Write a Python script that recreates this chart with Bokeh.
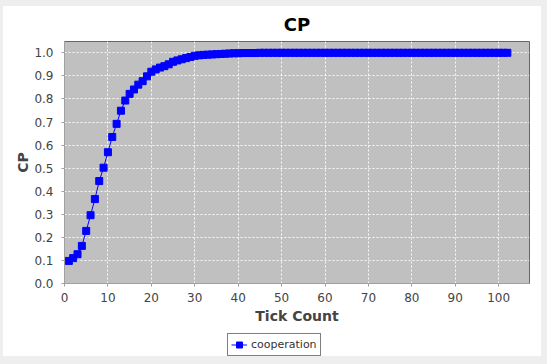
from bokeh.plotting import figure
from bokeh.embed import file_html
from bokeh.resources import INLINE
from bokeh.layouts import column
from bokeh.models import FixedTicker, NumeralTickFormatter, Legend, LegendItem, Range1d

tick_count = list(range(1, 103))
cp_values = [
    0.098, 0.110, 0.127, 0.163, 0.228, 0.296, 0.366, 0.444, 0.502, 0.569,
    0.635, 0.692, 0.749, 0.793, 0.822, 0.841, 0.862, 0.877, 0.898, 0.918,
    0.928, 0.936, 0.942, 0.950, 0.961, 0.967, 0.972, 0.977, 0.982, 0.987,
    0.989, 0.991, 0.992, 0.993, 0.994, 0.995, 0.996, 0.997, 0.998, 0.998,
    0.999, 0.999, 0.999, 0.999, 1.000, 1.000, 1.000, 1.000, 1.000, 1.000,
    1.000, 1.000, 1.000, 1.000, 1.000, 1.000, 1.000, 1.000, 1.000, 1.000,
    1.000, 1.000, 1.000, 1.000, 1.000, 1.000, 1.000, 1.000, 1.000, 1.000,
    1.000, 1.000, 1.000, 1.000, 1.000, 1.000, 1.000, 1.000, 1.000, 1.000,
    1.000, 1.000, 1.000, 1.000, 1.000, 1.000, 1.000, 1.000, 1.000, 1.000,
    1.000, 1.000, 1.000, 1.000, 1.000, 1.000, 1.000, 1.000, 1.000, 1.000,
    1.000, 1.000,
]
x_ticks = [0, 10, 20, 30, 40, 50, 60, 70, 80, 90, 100]
y_ticks = [0.0, 0.1, 0.2, 0.3, 0.4, 0.5, 0.6, 0.7, 0.8, 0.9, 1.0]
series_name = "cooperation"

FONT = "DejaVu Sans"

p = figure(width=538, height=330, output_backend="svg", toolbar_location=None,
           x_range=Range1d(0, 107.1), y_range=Range1d(0, 1.049),
           title="CP", x_axis_label="Tick Count", y_axis_label="CP",
           min_border_left=61, min_border_right=12, min_border_top=41,
           min_border_bottom=47)
p.background_fill_color = "#c0c0c0"
p.border_fill_color = "white"
p.outline_line_color = "#666666"
p.outline_line_width = 1

p.title.align = "center"
p.title.vertical_align = "top"
p.title.text_font = FONT
p.title.text_font_size = "18px"
p.title.text_font_style = "bold"
p.title.text_color = "black"
p.title.standoff = 10

for g in (p.xgrid, p.ygrid):
    g.grid_line_color = "white"
    g.grid_line_dash = "2 2"
    g.grid_line_width = 1
    g.grid_line_alpha = 0.9
p.xgrid.ticker = FixedTicker(ticks=x_ticks)
p.ygrid.ticker = FixedTicker(ticks=y_ticks)

p.xaxis.ticker = FixedTicker(ticks=x_ticks)
p.yaxis.ticker = FixedTicker(ticks=y_ticks)
p.yaxis.formatter = NumeralTickFormatter(format="0.0")
p.xaxis.formatter = NumeralTickFormatter(format="0")
for ax in (p.xaxis, p.yaxis):
    ax.axis_line_color = "#a0a0a0"
    ax.major_tick_line_color = "#a0a0a0"
    ax.major_tick_out = 3
    ax.major_tick_in = 0
    ax.minor_tick_line_color = None
    ax.major_label_text_font = FONT
    ax.major_label_text_font_size = "12px"
    ax.major_label_text_color = "#444444"
    ax.axis_label_text_font = FONT
    ax.axis_label_text_font_size = "14px"
    ax.axis_label_text_font_style = "bold"
    ax.axis_label_text_color = "#444444"
p.yaxis.major_label_standoff = 8
p.xaxis.major_label_standoff = 6
p.xaxis.axis_label_standoff = 3
p.yaxis.axis_label_standoff = 0

p.line(tick_count, cp_values, line_color="blue", line_width=1)
p.scatter(tick_count, cp_values, marker="square", size=7,
          fill_color="blue", line_color="blue")

# legend strip below the chart (same series, drawn off-frame; only its key shows)
p2 = figure(width=538, height=26, output_backend="svg", toolbar_location=None,
            x_range=Range1d(1000, 1001), y_range=Range1d(1000, 1001),
            x_axis_type=None, y_axis_type=None, min_border=0)
p2.outline_line_color = None
p2.background_fill_color = "white"
p2.border_fill_color = "white"
p2.xgrid.visible = False
p2.ygrid.visible = False
ln2 = p2.line(tick_count, cp_values, line_color="blue", line_width=1)
sq2 = p2.scatter(tick_count, cp_values, marker="square", size=7,
                 fill_color="blue", line_color="blue")

legend = Legend(items=[LegendItem(label=series_name, renderers=[ln2, sq2])],
                orientation="horizontal", location=(163, 0))
legend.border_line_color = "black"
legend.border_line_width = 1
legend.background_fill_color = "white"
legend.background_fill_alpha = 1
legend.label_text_font = FONT
legend.label_text_font_size = "11px"
legend.label_text_color = "#333333"
legend.glyph_width = 16
legend.glyph_height = 15
legend.padding = 3
legend.margin = 0
legend.label_standoff = 4
legend.spacing = 0
p2.add_layout(legend, "center")

layout = column(p, p2, spacing=0, margin=(0, 6, 8, 3),
                styles={"background-color": "white", "clip-path": "inset(6px 0 0 0)"})
html = file_html(layout, INLINE)
html = html.replace("<head>", "<head><style>html,body{margin:0;padding:0;background:#eeeeee;}</style>", 1)
open("out.html", "w").write(html)
